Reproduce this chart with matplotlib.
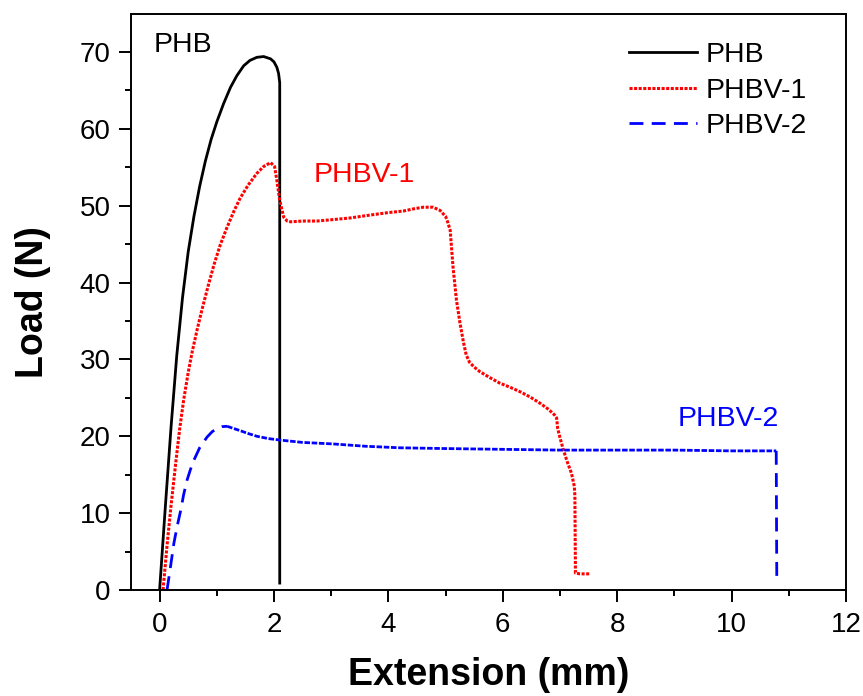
import matplotlib
matplotlib.use("Agg")
import matplotlib.pyplot as plt

plt.rcParams['font.family'] = ['Liberation Sans', 'DejaVu Sans']

# PHB
phb_x = [0.00, 0.10, 0.20, 0.30, 0.40, 0.50, 0.60, 0.70, 0.80, 0.90, 1.00, 1.12, 1.24,
         1.35, 1.47, 1.58, 1.70, 1.82, 1.94, 2.00, 2.05, 2.08, 2.10, 2.10]
phb_y = [0.0, 10.8, 21.2, 30.5, 38.0, 44.0, 48.6, 52.5, 55.8, 58.6, 60.9, 63.3, 65.4,
         66.9, 68.2, 68.9, 69.3, 69.4, 69.1, 68.7, 68.0, 67.2, 66.0, 0.9]

# PHBV-1
phbv1_x = [0.06, 0.13, 0.20, 0.28, 0.35, 0.42, 0.50, 0.57, 0.66, 0.745, 0.85, 0.95, 1.06,
           1.18, 1.30, 1.41, 1.55, 1.70, 1.82, 1.94, 2.01, 2.05, 2.10, 2.17, 2.23, 2.29,
           2.50, 2.75, 3.05, 3.33, 3.70, 4.00, 4.26, 4.45, 4.61, 4.78, 4.90, 5.00, 5.04,
           5.08, 5.13, 5.19, 5.25, 5.31, 5.36, 5.42, 5.50, 5.60, 5.78, 5.95, 6.12, 6.30,
           6.48, 6.65, 6.80, 6.90, 6.94, 6.96, 7.00, 7.06, 7.13, 7.20, 7.25, 7.26, 7.27,
           7.35, 7.52]
phbv1_y = [0.0, 5.8, 11.0, 16.4, 20.9, 24.7, 28.3, 31.0, 34.0, 36.6, 39.6, 42.3, 44.9,
           47.2, 49.3, 51.0, 52.7, 54.2, 55.1, 55.6, 55.1, 53.3, 50.7, 48.5, 48.0, 47.9,
           48.0, 48.0, 48.2, 48.4, 48.8, 49.1, 49.3, 49.6, 49.8, 49.8, 49.4, 48.6, 47.8,
           46.8, 42.0, 37.7, 34.8, 32.3, 30.6, 29.6, 29.0, 28.4, 27.6, 26.9, 26.4, 25.8,
           25.1, 24.3, 23.5, 22.8, 22.4, 21.0, 19.8, 18.2, 16.6, 15.2, 13.5, 12.3, 2.2,
           2.1, 2.1]

# PHBV-2
phbv2_x = [0.13, 0.19, 0.25, 0.31, 0.37, 0.42, 0.48, 0.54, 0.60, 0.70, 0.83, 0.92, 1.00,
           1.09, 1.18, 1.30, 1.42, 1.53, 1.70, 1.90, 2.11, 2.50, 3.04, 3.60, 4.20, 5.00,
           6.00, 7.00, 8.00, 9.00, 10.00, 10.78, 10.79]
phbv2_y = [0.0, 3.0, 6.1, 8.4, 10.4, 12.4, 14.3, 15.7, 16.9, 18.5, 19.9, 20.6, 21.0,
           21.25, 21.3, 21.0, 20.7, 20.4, 20.0, 19.7, 19.5, 19.2, 19.0, 18.7, 18.5, 18.4,
           18.3, 18.2, 18.2, 18.2, 18.1, 18.1, 1.3]

fig = plt.figure(figsize=(8.63, 6.96), dpi=100)
ax = fig.add_axes([0.1518, 0.1523, 0.8285, 0.8283])

ax.plot(phb_x, phb_y, color='black', lw=2.0, ls='-', label='PHB')
ax.plot(phbv1_x, phbv1_y, color='red', lw=2.2, ls=(0, (1, 0.5)), label='PHBV-1')

# dashed rise and drop, dense plateau (origin-style)
rise = 15
ax.plot(phbv2_x[:rise], phbv2_y[:rise], color='blue', lw=2.0, ls=(0, (5, 3)), label='PHBV-2')
ax.plot(phbv2_x[rise - 1:-1], phbv2_y[rise - 1:-1], color='blue', lw=2.0, ls=(0, (2, 0.6)))
ax.plot(phbv2_x[-2:], phbv2_y[-2:], color='blue', lw=2.0, ls=(0, (5, 3)))

ax.text(-0.1, 70.9, 'PHB', color='black', fontsize=20.5, va='center', ha='left')
ax.text(2.69, 54.0, 'PHBV-1', color='red', fontsize=20.5, va='center', ha='left')
ax.text(9.06, 22.2, 'PHBV-2', color='blue', fontsize=20.5, va='center', ha='left')

ax.set_xlim(-0.5, 12)
ax.set_ylim(0, 75)
ax.set_xticks([0, 2, 4, 6, 8, 10, 12])
ax.set_xticks([1, 3, 5, 7, 9, 11], minor=True)
ax.set_yticks([0, 10, 20, 30, 40, 50, 60, 70])
ax.set_yticks([5, 15, 25, 35, 45, 55, 65], minor=True)

for s in ax.spines.values():
    s.set_linewidth(1.4)
ax.tick_params(which='major', direction='out', length=8.5, width=1.4, labelsize=20)
ax.tick_params(which='minor', direction='out', length=4.5, width=1.4)
ax.tick_params(axis='x', which='major', pad=7)
ax.tick_params(axis='y', which='major', pad=6)

ax.set_xlabel('Extension (mm)', fontsize=27, fontweight='bold', labelpad=14)
ax.set_ylabel('Load (N)', fontsize=27, fontweight='bold', labelpad=21)

ax.legend(loc='upper left', bbox_to_anchor=(0.729, 0.939), bbox_transform=fig.transFigure,
          frameon=False, fontsize=20.5, handlelength=2.4, handletextpad=0.3,
          labelspacing=0.33, borderpad=0, borderaxespad=0)

fig.savefig('out.png', dpi=100)
